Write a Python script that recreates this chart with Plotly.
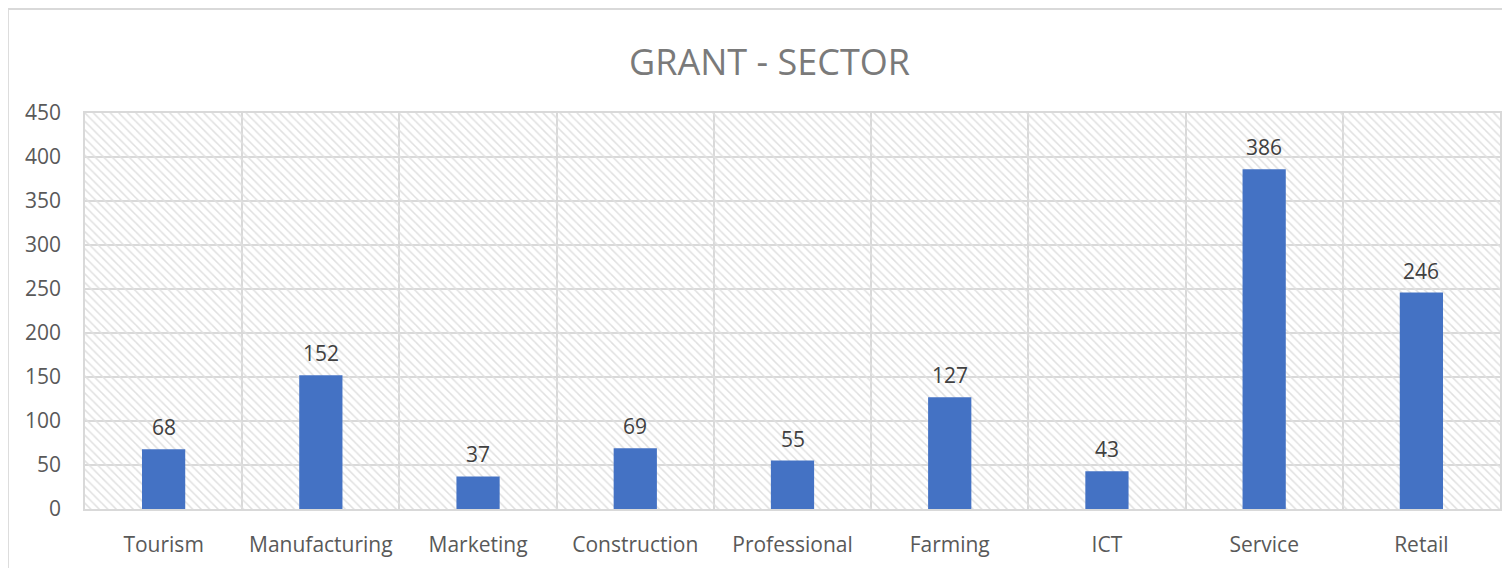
import plotly.graph_objects as go

categories = ["Tourism", "Manufacturing", "Marketing", "Construction", "Professional",
              "Farming", "ICT", "Service", "Retail"]
values = [68, 152, 37, 69, 55, 127, 43, 386, 246]
y_ticks = [0, 50, 100, 150, 200, 250, 300, 350, 400, 450]
y_max = 450
title_text = "GRANT - SECTOR"

FONT = "Open Sans"
fig = go.Figure()

# hatched plot-area background (Excel style pattern fill)
fig.add_trace(go.Bar(
    x=categories, y=[y_max] * len(categories), width=1,
    marker=dict(color="rgba(0,0,0,0)", line=dict(width=0),
                pattern=dict(shape="\\", fgcolor="#e0e0e0", bgcolor="rgba(0,0,0,0)",
                             size=6, solidity=0.25, fillmode="replace")),
    hoverinfo="skip", showlegend=False,
))

fig.add_trace(go.Bar(
    x=categories, y=values, width=0.275,
    marker=dict(color="#4472C4", line=dict(width=0)),
    showlegend=False,
))

annotations = [dict(x=c, y=v, text=str(v), showarrow=False, yanchor="middle", yshift=22,
                    font=dict(family=FONT, size=21, color="#404040"))
               for c, v in zip(categories, values)]

fig.update_layout(
    width=1502, height=560,
    margin=dict(l=77, r=8, t=105, b=59),
    paper_bgcolor="white", plot_bgcolor="white",
    barmode="overlay",
    annotations=annotations,
    title=dict(text=title_text, x=0.507, xref="container", xanchor="center",
               y=0.9036, yref="container", yanchor="middle",
               font=dict(family=FONT, size=36, color="#7a7a7a")),
    font=dict(family=FONT, color="#595959"),
    xaxis=dict(type="category", tickson="boundaries", showgrid=True, gridcolor="#d9d9d9",
               gridwidth=1.5, ticks="", showline=True, linecolor="#d9d9d9", linewidth=1.5,
               mirror=True, tickfont=dict(family=FONT, size=21, color="#595959"),
               ticklabelstandoff=16, range=[-0.5, 8.5]),
    yaxis=dict(range=[0, y_max], tickvals=y_ticks, showgrid=True, gridcolor="#d9d9d9",
               gridwidth=1.5, zeroline=False, showline=True, linecolor="#d9d9d9",
               linewidth=1.5, mirror=True, ticks="", ticklen=0, ticklabelstandoff=18,
               tickfont=dict(family=FONT, size=21, color="#595959")),
    shapes=[dict(type="rect", xref="paper", yref="paper",
                 x0=-0.0545, x1=1.02, y0=-0.2, y1=1.2626,
                 line=dict(color="#d9d9d9", width=2), fillcolor="rgba(0,0,0,0)", layer="below")],
)

fig.write_html("out.html")
